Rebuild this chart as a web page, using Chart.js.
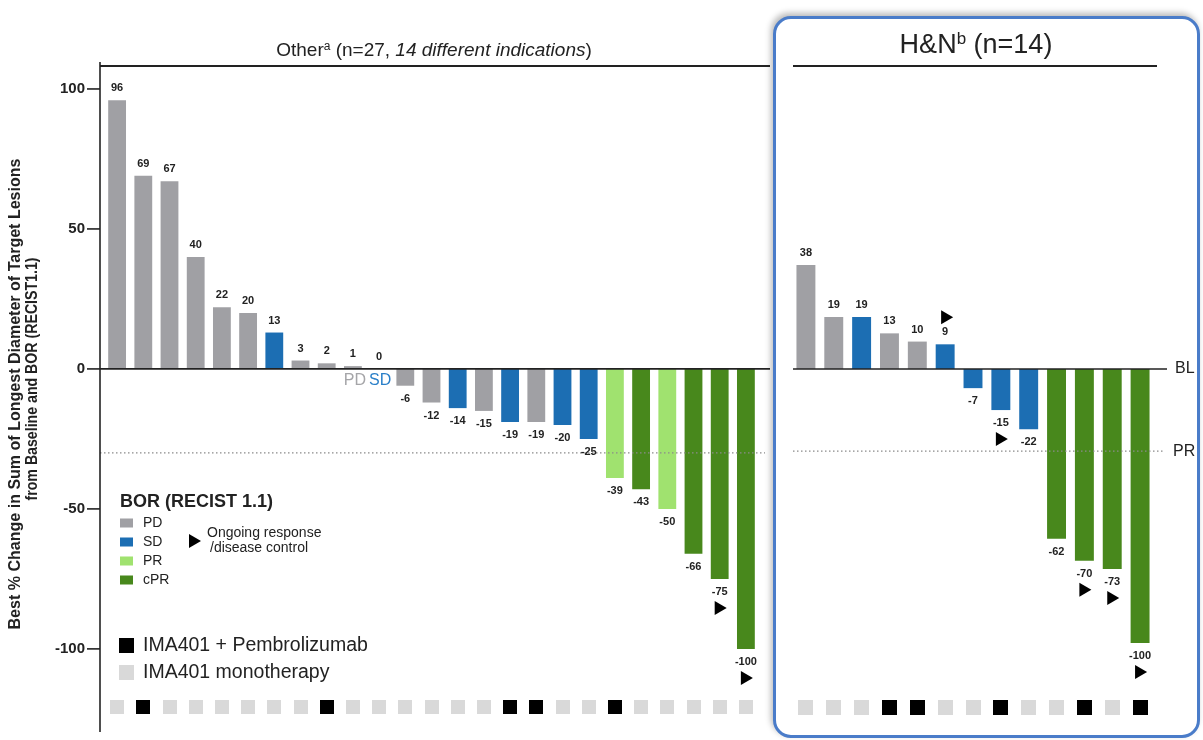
<!DOCTYPE html>
<html><head><meta charset="utf-8">
<script src="https://cdn.jsdelivr.net/npm/chart.js"></script>
<style>
html,body{margin:0;padding:0;background:#fff;}
#wrap{position:relative;width:1203px;height:740px;overflow:hidden;background:#fff;}
#panel{position:absolute;left:773px;top:16px;width:421px;height:716px;border:3px solid #4a7cc9;border-radius:18px;box-shadow:-2px -3px 6px rgba(0,0,0,0.28);background:#fff;}
canvas{position:absolute;left:0;top:0;}
</style></head><body>
<div id="wrap"><div id="panel"></div>
<canvas id="cOther" width="1203" height="755"></canvas>
<canvas id="cHN" width="1203" height="740"></canvas></div>
<script>
const FONT = '"Liberation Sans", Arial, Helvetica, sans-serif';
const borColors = {PD:'#a0a0a4', SD:'#1c6eb3', PR:'#a0e26f', cPR:'#48881c'};
const yTicks = [-100, -50, 0, 50, 100];
const prThreshold = -30;

// Other (n=27, 14 different indications)
const otherValues  = [96, 69, 67, 40, 22, 20, 13, 3, 2, 1, 0, -6, -12, -14, -15, -19, -19, -20, -25, -39, -43, -50, -66, -75, -100];
const otherBor     = ['PD','PD','PD','PD','PD','PD','SD','PD','PD','PD','PD','PD','PD','SD','PD','SD','PD','SD','SD','PR','cPR','PR','cPR','cPR','cPR'];
const otherOngoing = [0,0,0,0,0,0,0,0,0,0,0,0,0,0,0,0,0,0,0,0,0,0,0,1,1];
const otherCombo   = [0,1,0,0,0,0,0,0,1,0,0,0,0,0,0,1,1,0,0,1,0,0,0,0,0];

// H&N (n=14)
const hnValues  = [38, 19, 19, 13, 10, 9, -7, -15, -22, -62, -70, -73, -100];
const hnBor     = ['PD','PD','SD','PD','PD','SD','SD','SD','SD','cPR','cPR','cPR','cPR'];
const hnOngoing = [0,0,0,0,0,1,0,1,0,0,1,1,1];
const hnCombo   = [0,0,0,1,1,0,0,1,0,0,1,0,1];

function tri(ctx, cx, cy) {
  ctx.beginPath();
  ctx.moveTo(cx - 5, cy - 7); ctx.lineTo(cx - 5, cy + 7); ctx.lineTo(cx + 7, cy);
  ctx.closePath(); ctx.fillStyle = '#000'; ctx.fill();
}
function rich(ctx, parts, cx, by) {
  let w = 0;
  parts.forEach(p => { ctx.font = p.font; p.w = ctx.measureText(p.t).width; w += p.w; });
  let x = cx - w / 2;
  ctx.textAlign = 'left'; ctx.textBaseline = 'alphabetic';
  parts.forEach(p => { ctx.font = p.font; ctx.fillStyle = p.c || '#222'; ctx.fillText(p.t, x, by - (p.dy || 0)); x += p.w; });
}
function hline(ctx, x0, x1, y, w, c, dash) {
  ctx.save(); ctx.strokeStyle = c; ctx.lineWidth = w; if (dash) ctx.setLineDash(dash);
  ctx.beginPath(); ctx.moveTo(x0, y); ctx.lineTo(x1, y); ctx.stroke(); ctx.restore();
}
function vtext(ctx, text, cx, cy, font, span) {
  ctx.save(); ctx.fillStyle = '#222'; ctx.textAlign = 'center'; ctx.textBaseline = 'middle';
  ctx.font = font;
  const w = ctx.measureText(text).width;
  ctx.translate(cx, cy); ctx.rotate(-Math.PI / 2);
  ctx.scale(span / w, 1);
  ctx.fillText(text, 0, 0);
  ctx.restore();
}

const decor = {
  id: 'decor',
  afterDatasetsDraw(chart, args, o) {
    const ctx = chart.ctx, ys = chart.scales.y, ca = chart.chartArea;
    const meta = chart.getDatasetMeta(0);
    const y0 = ys.getPixelForValue(0), yPR = ys.getPixelForValue(prThreshold);
    ctx.save();
    hline(ctx, o.x0, o.zeroEnd, y0, 1.6, '#222');
    hline(ctx, o.x0, o.prEnd, yPR, 1.3, '#8a8a8a', [1.5, 2.5]);
    hline(ctx, o.x0, o.titleEnd, 66, 2, '#222');
    meta.data.forEach((bar, i) => {
      const v = o.values[i];
      const ly = v >= 0 ? bar.y - 12 : bar.y + 13;
      ctx.font = 'bold 11px ' + FONT; ctx.fillStyle = '#222'; ctx.textAlign = 'center'; ctx.textBaseline = 'middle';
      ctx.fillText(String(v), bar.x, ly);
      if (o.ongoing[i]) { if (v >= 0) tri(ctx, bar.x + 1, ly - 15); else tri(ctx, bar.x, ly + 16); }
      const s = o.sq;
      ctx.fillStyle = o.combo[i] ? '#000' : '#d9d9d9';
      ctx.fillRect(Math.round(bar.x - s / 2), Math.round(ca.bottom - 20 - s / 2), s, s);
    });
    if (o.side === 'left') {
      ctx.strokeStyle = '#222'; ctx.lineWidth = 1.6;
      ctx.beginPath(); ctx.moveTo(100, 62); ctx.lineTo(100, 732); ctx.stroke();
      yTicks.forEach(t => { const y = ys.getPixelForValue(t); ctx.beginPath(); ctx.moveTo(87, y); ctx.lineTo(100, y); ctx.stroke(); });
      rich(ctx, [
        {t:'Other', font:'19px ' + FONT},
        {t:'a', font:'12px ' + FONT, dy:6},
        {t:' (n=27, ', font:'19px ' + FONT},
        {t:'14 different indications', font:'italic 19px ' + FONT},
        {t:')', font:'19px ' + FONT}], 434, 56);
      vtext(ctx, 'Best % Change in Sum of Longest Diameter of Target Lesions', 16, 394, 'bold 16px ' + FONT, 471);
      vtext(ctx, 'from Baseline and BOR (RECIST1.1)', 33, 379, 'bold 16px ' + FONT, 243);
      const zb = meta.data[10];
      ctx.textBaseline = 'middle'; ctx.font = '16px ' + FONT;
      ctx.textAlign = 'right'; ctx.fillStyle = '#a5a5a8'; ctx.fillText('PD', zb.x - 13, y0 + 12);
      ctx.textAlign = 'left'; ctx.fillStyle = '#2a7fc8'; ctx.fillText('SD', zb.x - 10, y0 + 12);
      ctx.fillStyle = '#222'; ctx.textAlign = 'left'; ctx.font = 'bold 18px ' + FONT;
      ctx.fillText('BOR (RECIST 1.1)', 120, 502);
      ['PD', 'SD', 'PR', 'cPR'].forEach((k, j) => {
        const cy = 523 + j * 19;
        ctx.fillStyle = borColors[k]; ctx.fillRect(120, cy - 4.5, 13, 9);
        ctx.fillStyle = '#222'; ctx.font = '14px ' + FONT; ctx.fillText(k, 143, cy);
      });
      tri(ctx, 194, 541);
      ctx.fillStyle = '#222'; ctx.font = '14px ' + FONT;
      ctx.fillText('Ongoing response', 207, 533);
      ctx.fillText('/disease control', 210, 548);
      ctx.fillStyle = '#000'; ctx.fillRect(119, 638, 15, 15);
      ctx.fillStyle = '#d9d9d9'; ctx.fillRect(119, 665, 15, 15);
      ctx.fillStyle = '#222'; ctx.font = '19.5px ' + FONT;
      ctx.fillText('IMA401 + Pembrolizumab', 143, 646);
      ctx.fillText('IMA401 monotherapy', 143, 673);
    } else {
      rich(ctx, [
        {t:'H&N', font:'27px ' + FONT},
        {t:'b', font:'17px ' + FONT, dy:9},
        {t:' (n=14)', font:'27px ' + FONT}], 976, 53);
      ctx.fillStyle = '#222'; ctx.font = '16px ' + FONT; ctx.textAlign = 'left'; ctx.textBaseline = 'middle';
      ctx.fillText('BL', 1175, y0);
      ctx.fillText('PR', 1173, yPR);
    }
    ctx.restore();
  }
};

function makeChart(id, values, bor, ongoing, combo, cfg) {
  return new Chart(document.getElementById(id), {
    type: 'bar',
    data: {
      labels: values.map((_, i) => String(i + 1)),
      datasets: [{ data: values, backgroundColor: bor.map(b => borColors[b]), borderWidth: 0, barPercentage: 0.68, categoryPercentage: 1 }]
    },
    options: {
      responsive: false, animation: false, events: [],
      layout: { padding: cfg.padding },
      plugins: { legend: { display: false }, tooltip: { enabled: false },
        decor: Object.assign({ values, ongoing, combo }, cfg.decor) },
      scales: {
        x: { display: false },
        y: {
          display: cfg.showY, min: cfg.min, max: cfg.max,
          afterBuildTicks: s => { s.ticks = yTicks.map(v => ({ value: v })); },
          afterFit: s => { s.width = cfg.showY ? 104 : 0; },
          grid: { display: false, drawTicks: false }, border: { display: false },
          ticks: { padding: 19, color: '#222', font: { family: FONT, size: 15, weight: 'bold' } }
        }
      }
    },
    plugins: [decor]
  });
}

makeChart('cOther', otherValues, otherBor, otherOngoing, otherCombo, {
  padding: { left: 0, right: 444, top: 66, bottom: 28 }, showY: true, min: -127.9, max: 108.2,
  decor: { side: 'left', x0: 100, zeroEnd: 770, prEnd: 765, titleEnd: 770, sq: 14 }
});
makeChart('cHN', hnValues, hnBor, hnOngoing, hnCombo, {
  padding: { left: 792, right: 49, top: 66, bottom: 13 }, showY: false, min: -130.7, max: 110.6,
  decor: { side: 'right', x0: 793, zeroEnd: 1167, prEnd: 1165, titleEnd: 1157, sq: 15 }
});
</script></body></html>
